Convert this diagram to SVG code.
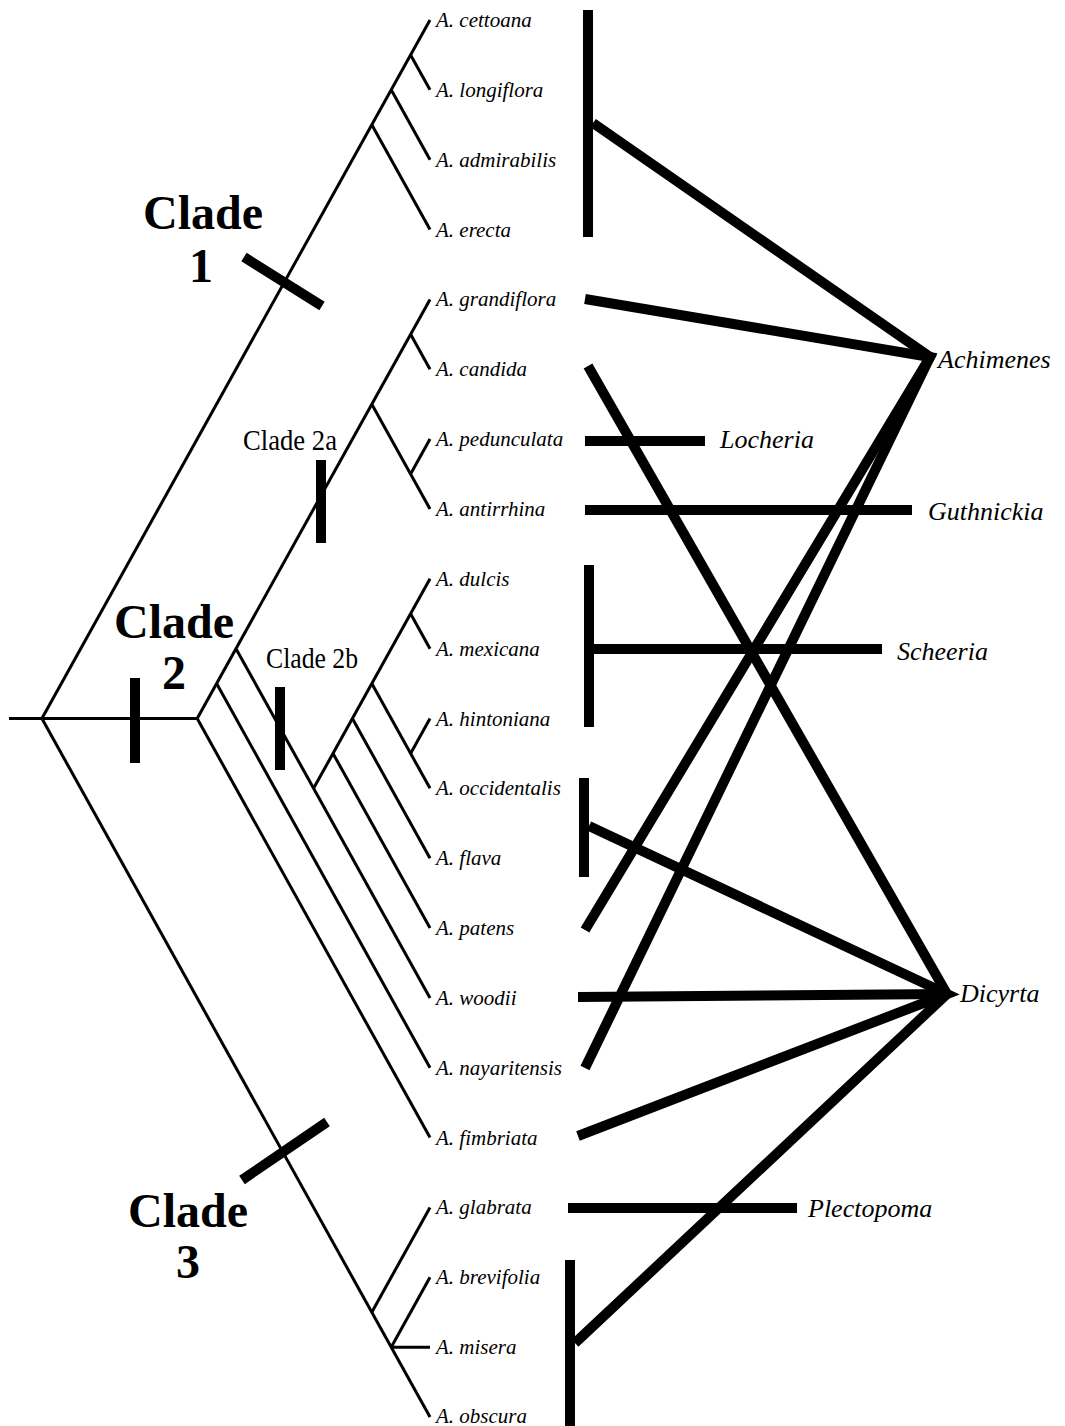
<svg xmlns="http://www.w3.org/2000/svg" width="1065" height="1426" viewBox="0 0 1065 1426">
<style>
.t{stroke:#000;stroke-width:3;fill:none;stroke-linecap:butt}
.k{stroke:#000;stroke-width:10;fill:none;stroke-linecap:butt;stroke-linejoin:miter;stroke-miterlimit:10}
.tx{font-family:"Liberation Serif","Times New Roman",serif;font-style:italic;font-size:21px;fill:#000}
.g{font-family:"Liberation Serif","Times New Roman",serif;font-style:italic;font-size:26px;fill:#000}
.cl{font-family:"Liberation Serif","Times New Roman",serif;font-weight:bold;font-size:48px;fill:#000;text-anchor:middle}
.cs{font-family:"Liberation Serif","Times New Roman",serif;font-size:29px;fill:#000}
</style>
<rect width="1065" height="1426" fill="#fff"/>
<g id="tree">
<path class="t" d="M9,718.5 H197.2"/>
<path class="t" d="M41.9,718.5 L430,20"/>
<path class="t" d="M410.6,54.9 L430,89.85"/>
<path class="t" d="M391.2,89.85 L430,159.7"/>
<path class="t" d="M371.8,124.8 L430,229.55"/>
<path class="t" d="M197.2,718.5 L430,299.4"/>
<path class="t" d="M410.6,334.3 L430,369.25"/>
<path class="t" d="M371.8,404.2 L430,508.95"/>
<path class="t" d="M410.6,474 L430,439.1"/>
<path class="t" d="M197.2,718.5 L430,1137.6"/>
<path class="t" d="M216.6,683.6 L430,1067.75"/>
<path class="t" d="M236,648.65 L430,997.9"/>
<path class="t" d="M313.6,788.35 L430,578.8"/>
<path class="t" d="M410.6,613.7 L430,648.65"/>
<path class="t" d="M333,753.4 L430,928.05"/>
<path class="t" d="M352.4,718.5 L430,858.2"/>
<path class="t" d="M371.8,683.6 L430,788.35"/>
<path class="t" d="M410.6,753.4 L430,718.5"/>
<path class="t" d="M41.9,718.5 L430,1417"/>
<path class="t" d="M371.8,1312.2 L430,1207.45"/>
<path class="t" d="M391.2,1347.15 L430,1277.3"/>
<path class="t" d="M391.2,1347.15 H430"/>
</g>
<g id="clade-marks">
<path class="k" d="M244,257 L322,306"/>
<path class="k" d="M135,678 V763"/>
<path class="k" d="M321,460 V543"/>
<path class="k" d="M280,687 V770"/>
<path class="k" d="M242,1180 L327,1122"/>
</g>
<g id="clade-labels">
<text class="cl" x="203" y="229">Clade</text>
<text class="cl" x="201" y="282">1</text>
<text class="cl" x="174" y="638">Clade</text>
<text class="cl" x="174" y="689">2</text>
<text class="cl" x="188" y="1227">Clade</text>
<text class="cl" x="188" y="1278">3</text>
<text class="cs" x="243" y="450" textLength="94" lengthAdjust="spacingAndGlyphs">Clade 2a</text>
<text class="cs" x="266" y="668" textLength="92" lengthAdjust="spacingAndGlyphs">Clade 2b</text>
</g>
<g id="taxa">
<text class="tx" x="436" y="27">A. cettoana</text>
<text class="tx" x="436" y="97">A. longiflora</text>
<text class="tx" x="436" y="167">A. admirabilis</text>
<text class="tx" x="436" y="237">A. erecta</text>
<text class="tx" x="436" y="306">A. grandiflora</text>
<text class="tx" x="436" y="376">A. candida</text>
<text class="tx" x="436" y="446">A. pedunculata</text>
<text class="tx" x="436" y="516">A. antirrhina</text>
<text class="tx" x="436" y="586">A. dulcis</text>
<text class="tx" x="436" y="656">A. mexicana</text>
<text class="tx" x="436" y="726">A. hintoniana</text>
<text class="tx" x="436" y="795">A. occidentalis</text>
<text class="tx" x="436" y="865">A. flava</text>
<text class="tx" x="436" y="935">A. patens</text>
<text class="tx" x="436" y="1005">A. woodii</text>
<text class="tx" x="436" y="1075">A. nayaritensis</text>
<text class="tx" x="436" y="1145">A. fimbriata</text>
<text class="tx" x="436" y="1214">A. glabrata</text>
<text class="tx" x="436" y="1284">A. brevifolia</text>
<text class="tx" x="436" y="1354">A. misera</text>
<text class="tx" x="436" y="1423">A. obscura</text>
</g>
<g id="connectors">
<path class="k" d="M588,10 V237"/>
<path class="k" d="M593,123 L930,357 L585,930"/>
<path class="k" d="M585,299 L930,357 L585,1068"/>
<path class="k" d="M585,441 H705"/>
<path class="k" d="M585,510 H912"/>
<path class="k" d="M589,565 V727"/>
<path class="k" d="M594,649 H882"/>
<path class="k" d="M584,778 V877"/>
<path class="k" d="M588,366 L947,994 L575,1343"/>
<path class="k" d="M589,826 L947,994 L578,1136"/>
<path class="k" d="M578,997 L947,994"/>
<path class="k" d="M568,1208 H797"/>
<path class="k" d="M570,1260 V1426"/>
</g>
<g id="genera">
<text class="g" x="938" y="368">Achimenes</text>
<text class="g" x="720" y="448">Locheria</text>
<text class="g" x="928" y="520">Guthnickia</text>
<text class="g" x="897" y="660">Scheeria</text>
<text class="g" x="960" y="1002">Dicyrta</text>
<text class="g" x="808" y="1217">Plectopoma</text>
</g>
</svg>
